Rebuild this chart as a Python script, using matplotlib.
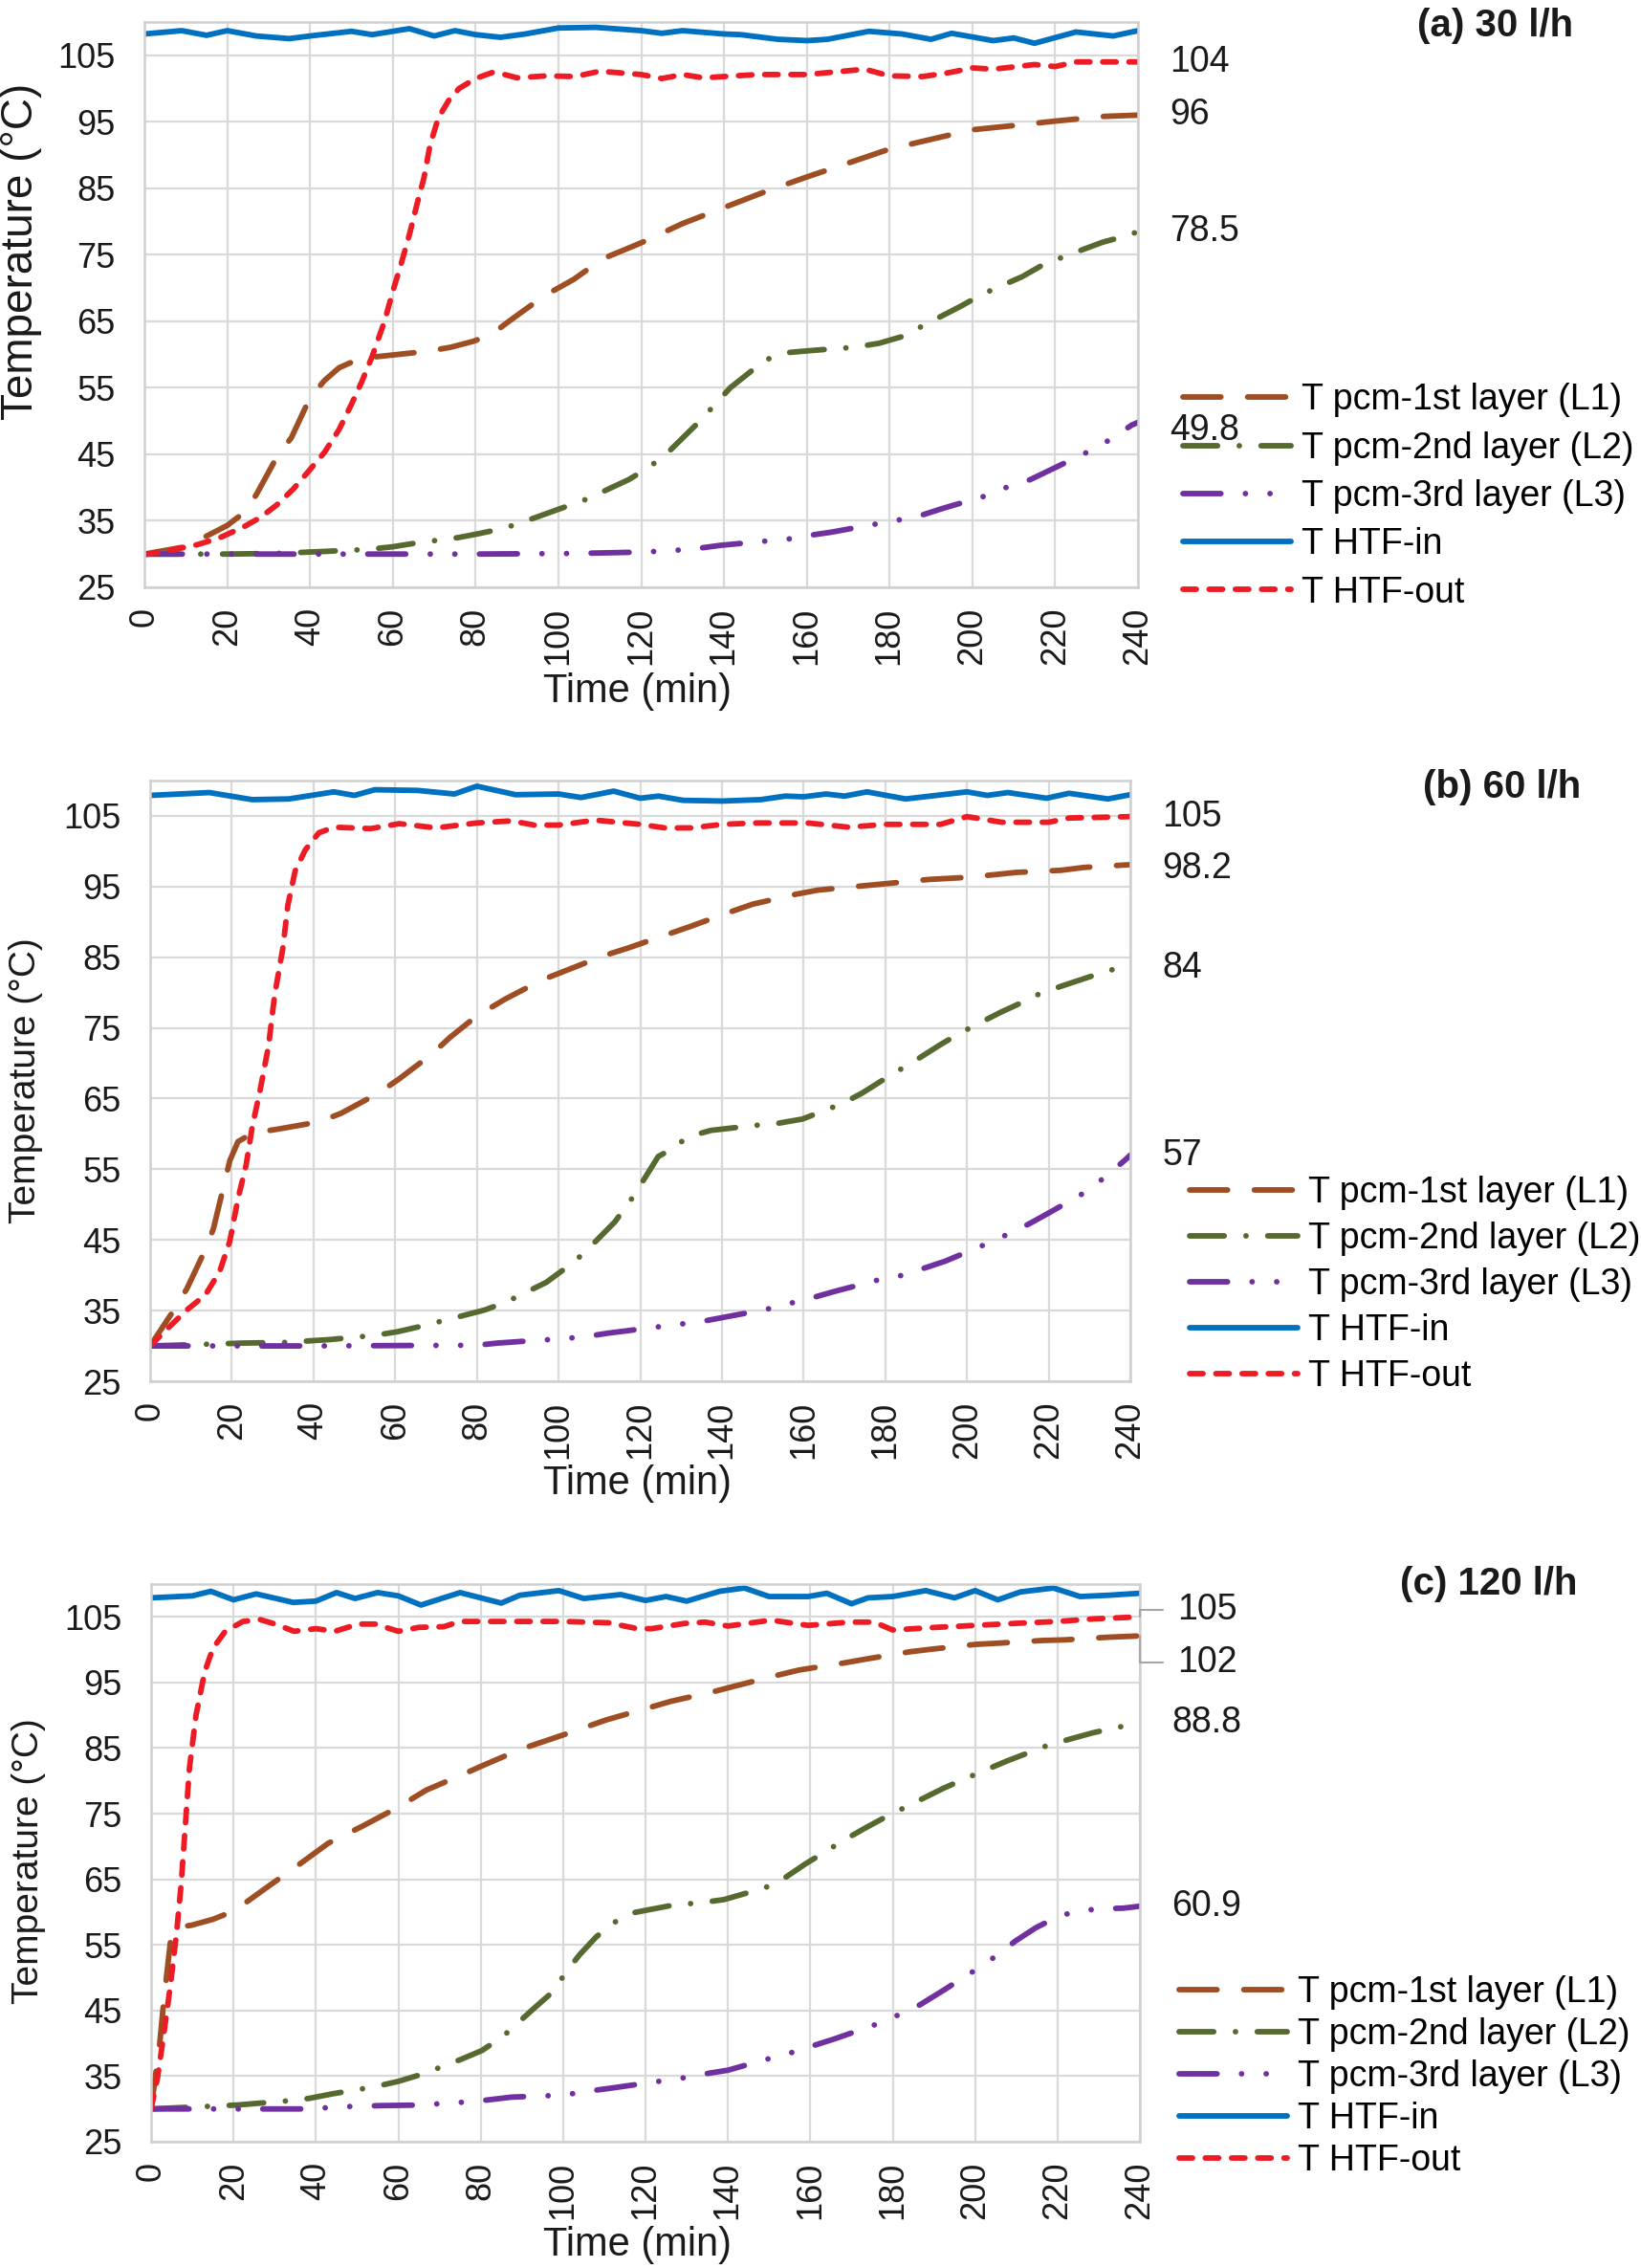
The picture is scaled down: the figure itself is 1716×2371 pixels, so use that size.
import matplotlib
matplotlib.use('Agg')
import matplotlib.pyplot as plt

plt.rcParams['font.family'] = ['Liberation Sans', 'DejaVu Sans']

W, H = 1716, 2371

# ---------------- (a) 30 l/h ----------------
a_t_in = [0, 9, 15, 20, 27, 35, 40, 50, 55, 64, 70, 75, 80, 86, 92, 100, 109, 120, 125, 130,
          140, 144, 153, 160, 165, 175, 183, 190, 195, 205, 210, 215, 225, 234, 240]
a_T_in = [108.2, 108.7, 108.0, 108.7, 107.9, 107.5, 107.9, 108.6, 108.1, 109.0, 107.9, 108.7,
          108.1, 107.7, 108.2, 109.1, 109.2, 108.7, 108.3, 108.7, 108.2, 108.1, 107.4, 107.2,
          107.4, 108.6, 108.2, 107.4, 108.3, 107.2, 107.6, 106.8, 108.5, 107.9, 108.7]

a_t_out = [0, 6.5, 12.7, 18, 24, 28, 32, 36, 40, 43.5, 47, 50, 52.5, 55, 58, 60, 62, 64, 66,
           67.5, 69, 71, 73.5, 76, 80, 84, 87, 90, 97, 104, 110, 120, 125, 130, 135, 140, 148,
           160, 174, 180, 188, 194.5, 200, 205, 215, 220, 225, 240]
a_T_out = [29.9, 30.6, 31.4, 32.4, 34.1, 35.5, 37.4, 39.8, 42.7, 45.3, 48.7, 52.5, 55.9, 59.7,
           65.0, 69.5, 73.6, 78.0, 83.0, 86.5, 91.5, 95.6, 98.2, 100.0, 101.5, 102.4, 102.1,
           101.6, 101.9, 101.8, 102.6, 102.1, 101.5, 102.1, 101.6, 101.8, 102.1, 102.1, 102.9,
           101.9, 101.8, 102.4, 103.1, 102.9, 103.6, 103.3, 104.0, 104.0]

a_t_l1 = [0, 9, 15, 20, 24, 27, 32, 35.5, 40, 43.5, 47, 52, 58, 68.5, 74, 79.5, 84, 88.5, 96.5,
          103.7, 110.7, 120, 130, 140, 150, 160, 171, 180, 191, 200, 209.5, 220, 231.5, 240]
a_T_l1 = [30, 31, 32.7, 34.3, 36.2, 38.9, 44.6, 47.5, 53.5, 56.1, 58, 59.4, 59.8, 60.5, 61.1,
          62, 63.1, 65.2, 68.8, 71.3, 74.4, 76.8, 79.7, 82.1, 84.5, 86.7, 89.0, 90.9, 92.5,
          93.8, 94.4, 95.1, 95.8, 96.0]

a_t_l2 = [0, 20, 32, 43.5, 54, 60, 65, 76, 81, 87, 94.5, 107, 117, 122, 126.5, 134, 138, 141.5,
          150, 155.5, 161, 171.5, 177.5, 183, 192, 197, 202.5, 212, 216.5, 222, 231.5, 237.5, 240]
a_T_l2 = [30, 30, 30.1, 30.4, 30.7, 31.1, 31.6, 32.5, 33.1, 33.9, 35.5, 38.3, 41.2, 43.1, 45.3,
          49.9, 52.6, 55.0, 59.2, 60.3, 60.6, 61.1, 61.7, 62.7, 65.6, 67.2, 69.1, 71.7, 73.3,
          74.7, 76.9, 77.9, 78.5]

a_t_l3 = [0, 40, 80, 105, 120, 127, 133, 139, 149, 155, 160.5, 166, 176.5, 182, 188, 193, 203.5,
          208.5, 214, 219, 229, 233.5, 238.5, 240]
a_T_l3 = [30, 30, 30, 30.1, 30.3, 30.5, 30.8, 31.3, 31.9, 32.2, 32.8, 33.3, 34.5, 35.1, 35.9,
          36.9, 38.8, 40.1, 41.2, 42.7, 45.7, 47.3, 49.4, 49.8]

a_labels = ['104', '96', '78.5', '49.8']

# ---------------- (b) 60 l/h ----------------
b_t_in = [0, 14.5, 25, 34, 45, 50, 55, 65.5, 74.5, 80, 89.5, 100, 105.5, 113.5, 120, 124.5,
          130.5, 140, 149.5, 155.5, 160, 165.5, 170, 175.5, 185, 200, 205, 210, 219.5, 225,
          234.5, 240]
b_T_in = [107.9, 108.3, 107.3, 107.4, 108.4, 107.9, 108.7, 108.6, 108.1, 109.2, 108.0, 108.1,
          107.6, 108.5, 107.5, 107.8, 107.2, 107.1, 107.3, 107.8, 107.7, 108.1, 107.8, 108.4,
          107.4, 108.4, 107.9, 108.3, 107.5, 108.2, 107.4, 108.0]

b_t_out = [0, 4.7, 9, 13.5, 17, 19.5, 21.5, 23.5, 25, 27, 29, 30.5, 32.5, 33.7, 35.5, 38, 41.3,
           45, 54, 61, 70, 80, 88.5, 94, 100, 109, 120, 126, 132.5, 140, 148.5, 161, 171, 180,
           193.5, 200, 208.5, 220, 225, 240]
b_T_out = [30, 32.7, 35.1, 37.2, 40.5, 44.8, 50.8, 55.6, 61, 66.4, 72.5, 79.7, 86.3, 92.3, 97.2,
           100.2, 102.6, 103.4, 103.2, 103.9, 103.3, 104.0, 104.3, 103.7, 103.7, 104.4, 103.8,
           103.3, 103.3, 103.8, 104.0, 104.0, 103.4, 103.8, 103.8, 104.9, 104.1, 104.1, 104.7,
           104.9]

b_t_l1 = [0, 5.5, 9, 13.5, 15.5, 18, 19.5, 21.5, 25, 31.5, 41.3, 46.7, 56, 61, 69, 73.5, 80, 87,
          96, 101.3, 111, 117, 127, 132, 142, 147.5, 158, 163.5, 174.5, 180, 190.5, 200, 207,
          212, 223, 228.5, 240]
b_T_l1 = [30, 34.8, 38.1, 43.6, 46.6, 52.6, 56.2, 58.9, 60.1, 60.7, 61.7, 62.9, 65.8, 67.8,
          71.3, 73.7, 76.7, 79.1, 81.8, 83.0, 85.2, 86.3, 88.3, 89.3, 91.4, 92.5, 93.9, 94.5,
          95.1, 95.4, 96.0, 96.3, 96.7, 97.0, 97.3, 97.7, 98.1]

b_t_l2 = [0, 22.5, 33, 44, 55, 60.5, 66.5, 76, 82, 87.5, 97, 101.7, 106, 113.7, 117.2, 120.2,
          124.4, 127.2, 131.8, 137.3, 148, 153.7, 159.7, 169.5, 174.4, 179.6, 188.5, 193.4,
          198.4, 208.2, 213.1, 218.4, 228.3, 234, 240]
b_T_l2 = [30, 30.4, 30.5, 30.9, 31.5, 32.0, 32.8, 34.2, 35.1, 36.3, 39.0, 41.0, 43.0, 47.5,
          50.2, 52.9, 56.8, 57.7, 59.6, 60.5, 61.2, 61.5, 62.1, 64.3, 65.8, 67.7, 70.8, 72.6,
          74.3, 77.2, 78.5, 80.0, 81.9, 83.0, 83.9]

b_t_l3 = [0, 40, 80, 85, 95, 100.5, 106.5, 112, 123, 128.5, 134.5, 140, 151, 156.5, 162, 167.5,
          178, 183.5, 189.5, 194.7, 205, 210, 215.3, 220.3, 229.7, 234.2, 238.7, 240]
b_T_l3 = [30, 30, 30.1, 30.4, 30.8, 31.0, 31.3, 31.8, 32.6, 33.0, 33.4, 34.0, 35.2, 36.0, 36.8,
          37.7, 39.3, 39.9, 41.0, 42.0, 44.5, 45.8, 47.3, 48.9, 52.0, 54.1, 56.3, 57.0]

b_labels = ['105', '98.2', '84', '57']

# ---------------- (c) 120 l/h ----------------
c_t_in = [0, 10, 14.5, 20, 25.5, 34.5, 40, 45, 49.5, 55, 60, 65.5, 75, 80, 85, 89.5, 99, 105,
          114, 120, 125, 130, 138, 144, 150, 159.5, 164, 170, 174, 180, 188, 195, 200, 205.5,
          211, 219, 225.5, 232.5, 240]
c_T_in = [107.9, 108.2, 108.9, 107.6, 108.5, 107.2, 107.4, 108.7, 107.8, 108.7, 108.2, 106.8,
          108.7, 107.9, 107.1, 108.3, 109.0, 107.8, 108.4, 107.5, 108.1, 107.4, 108.9, 109.4,
          108.1, 108.1, 108.6, 107.0, 107.9, 108.1, 109.0, 107.9, 109.0, 107.6, 108.8, 109.4,
          108.1, 108.3, 108.6]

c_t_out = [0, 1.6, 3.1, 4.7, 6.2, 7.3, 8.3, 9.3, 10.9, 13, 15, 18, 22.3, 26.4, 30.6, 34.7, 40,
           44.6, 50.3, 54.4, 60, 65, 71, 75, 87.5, 100, 111, 118, 121.5, 129.5, 134.5, 140,
           150.5, 159.5, 169.5, 175.5, 180, 190.5, 200, 209.5, 220, 229, 240]
c_T_out = [30, 34.9, 41.5, 48.9, 56.9, 64.3, 73.1, 81.9, 90, 96.6, 100.2, 102.8, 104.3, 104.6,
           103.8, 102.8, 103.2, 102.8, 103.9, 103.9, 102.8, 103.4, 103.5, 104.3, 104.3, 104.3,
           104.1, 103.2, 103.2, 104.0, 104.2, 103.6, 104.5, 103.7, 104.2, 104.2, 103.0, 103.4,
           103.7, 104.0, 104.3, 104.7, 105.0]

c_t_l1 = [0, 2.1, 3.1, 4.7, 6.7, 9.8, 15, 20.2, 27.5, 35.8, 43, 51.3, 60, 66.8, 75, 80, 89.6,
          100, 110.5, 120, 126, 136.5, 142, 152, 157.3, 168.4, 173.8, 184.4, 189.8, 200, 205.8,
          216.4, 221.8, 232.4, 240]
c_T_l1 = [30, 40.0, 46.6, 55.5, 57.7, 58.0, 58.9, 60.2, 63.5, 67.2, 70.5, 73.1, 76.0, 78.6,
          80.8, 82.2, 84.8, 87.0, 89.3, 91.0, 92.1, 93.6, 94.5, 96.1, 96.9, 98.0, 98.6, 99.7,
          100.1, 100.8, 101.0, 101.4, 101.5, 101.9, 102.1]

c_t_l2 = [0, 21, 32.5, 38.3, 44, 54.4, 60, 65.8, 75, 80.3, 85.5, 92.7, 97.4, 101, 104, 108, 112,
          117, 127, 133, 139, 149, 154, 158.7, 168, 173, 178, 187.6, 192.4, 197.8, 207.6, 213,
          218, 228.4, 234, 240]
c_T_l2 = [30, 30.6, 31.2, 31.6, 32.3, 33.4, 34.2, 35.3, 37.5, 38.9, 41.1, 45.2, 47.8, 51.1,
          53.5, 56.2, 58.3, 59.9, 61.1, 61.4, 61.9, 63.7, 65.3, 67.3, 70.9, 72.7, 74.4, 77.4,
          78.9, 80.4, 83.0, 84.3, 85.5, 87.3, 88.1, 88.8]

c_t_l3 = [0, 40, 44, 55.5, 66, 72, 78, 87.5, 100, 106, 112, 122, 128, 134, 140, 149, 155, 160.5,
          166, 176, 181.3, 186.7, 191.6, 200.4, 205.3, 209.8, 214.7, 220, 224.4, 230, 236, 240]
c_T_l3 = [30, 30, 30.3, 30.5, 30.6, 30.9, 31.1, 31.8, 32.1, 32.7, 33.2, 34.1, 34.6, 35.3, 35.9,
          37.5, 38.5, 39.6, 40.7, 42.9, 44.3, 45.9, 47.8, 51.3, 53.4, 55.6, 57.6, 59.3, 60.1,
          60.5, 60.6, 60.9]

c_labels = ['105', '102', '88.8', '60.9']

series_names = ['T pcm-1st layer (L1)', 'T pcm-2nd layer (L2)', 'T pcm-3rd layer (L3)',
                'T HTF-in', 'T HTF-out']
titles = ['(a) 30 l/h', '(b) 60 l/h', '(c) 120 l/h']

# line styles (dash lengths in line widths, round caps like Excel)
LW = 4.2
styles = [
    dict(color='#9E4E22', dashes=(6.8, 4.8)),
    dict(color='#566A30', dashes=(6.2, 3.9, 0.01, 3.9)),
    dict(color='#7030A0', dashes=(6.8, 4.4, 0.01, 4.4, 0.01, 4.4)),
    dict(color='#0070C0', linestyle='-'),
    dict(color='#ED1C24', dashes=(2.4, 2.3)),
]

panels = [
    dict(series=[(a_t_l1, a_T_l1), (a_t_l2, a_T_l2), (a_t_l3, a_T_l3), (a_t_in, a_T_in), (a_t_out, a_T_out)],
         labels=a_labels,
         rect=(151, 23, 1190, 614), ylab=(22, 263, 33), xlab=(667, 723), title=(1564, 27),
         legend=(1237, 519, 0.38), lab_off=[0, 0, 0, -6], leader=False),
    dict(series=[(b_t_l1, b_T_l1), (b_t_l2, b_T_l2), (b_t_l3, b_T_l3), (b_t_in, b_T_in), (b_t_out, b_T_out)],
         labels=b_labels,
         rect=(157, 816, 1182, 1444), ylab=(27, 1130, 28), xlab=(667, 1551), title=(1571, 823),
         legend=(1244, 1343, 0.32), lab_off=[0, -3, -2, 0], leader=False),
    dict(series=[(c_t_l1, c_T_l1), (c_t_l2, c_T_l2), (c_t_l3, c_T_l3), (c_t_in, c_T_in), (c_t_out, c_T_out)],
         labels=c_labels,
         rect=(158, 1656, 1192, 2239), ylab=(30, 1946, 28), xlab=(667, 2347), title=(1557, 1656),
         legend=(1233, 2171, 0.21), lab_off=[5, -20, 0, 0], leader=True),
]

fig = plt.figure(figsize=(W / 100, H / 100), dpi=100)

for p, title in zip(panels, titles):
    x0, y0, x1, y1 = p['rect']
    ax = fig.add_axes([x0 / W, 1 - y1 / H, (x1 - x0) / W, (y1 - y0) / H])

    handles = []
    for (t, T), name, st in zip(p['series'], series_names, styles):
        line, = ax.plot(t, T, lw=LW, label=name, dash_capstyle='round',
                        solid_capstyle='round', solid_joinstyle='round', **st)
        handles.append(line)

    ax.set_xlim(0, 240)
    ax.set_ylim(25, 110)
    ax.set_xticks(range(0, 241, 20))
    ax.set_yticks(range(25, 106, 10))
    ax.grid(True, color='#D9D9D9', lw=1.6)
    ax.set_axisbelow(True)
    for side in ['top', 'right', 'left', 'bottom']:
        ax.spines[side].set_color('#D0D0D0')
        ax.spines[side].set_linewidth(1.8)
    ax.tick_params(length=0, labelsize=26, colors='#1a1a1a')
    ax.tick_params(axis='y', pad=22)
    ax.tick_params(axis='x', pad=15, labelrotation=90)

    # end-value labels: HTF-out, L1, L2, L3
    ends = [p['series'][4], p['series'][0], p['series'][1], p['series'][2]]
    for k, (txt, (t, T)) in enumerate(zip(p['labels'], ends)):
        if p['leader'] and k < 2:
            ax.annotate(txt, xy=(t[-1], T[-1]), xytext=(28, p['lab_off'][k]),
                        textcoords='offset points', ha='left', va='center', fontsize=27,
                        color='#1a1a1a', annotation_clip=False,
                        arrowprops=dict(arrowstyle='-', color='#A6A6A6', lw=1.5,
                                        shrinkA=9, shrinkB=0,
                                        connectionstyle='angle,angleA=0,angleB=90,rad=0'))
        else:
            ax.annotate(txt, xy=(t[-1], T[-1]), xytext=(24, p['lab_off'][k]),
                        textcoords='offset points', ha='left', va='center', fontsize=27,
                        color='#1a1a1a', annotation_clip=False)

    lx, ly, lsp = p['legend']
    ax.legend(handles=handles, loc='center left', bbox_to_anchor=(lx / W, 1 - ly / H),
              bbox_transform=fig.transFigure, frameon=False, fontsize=27,
              handlelength=3.0, handletextpad=0.3, labelspacing=lsp,
              borderpad=0, borderaxespad=0)

    yx, yy, ysz = p['ylab']
    fig.text(yx / W, 1 - yy / H, 'Temperature (°C)', rotation=90, ha='center', va='center',
             fontsize=ysz, color='#1a1a1a')
    fig.text(p['xlab'][0] / W, 1 - p['xlab'][1] / H, 'Time (min)', ha='center', va='center',
             fontsize=30, color='#1a1a1a')
    fig.text(p['title'][0] / W, 1 - p['title'][1] / H, title, ha='center', va='center',
             fontsize=29, fontweight='bold', color='#1a1a1a')

fig.savefig('out.png', dpi=100)
